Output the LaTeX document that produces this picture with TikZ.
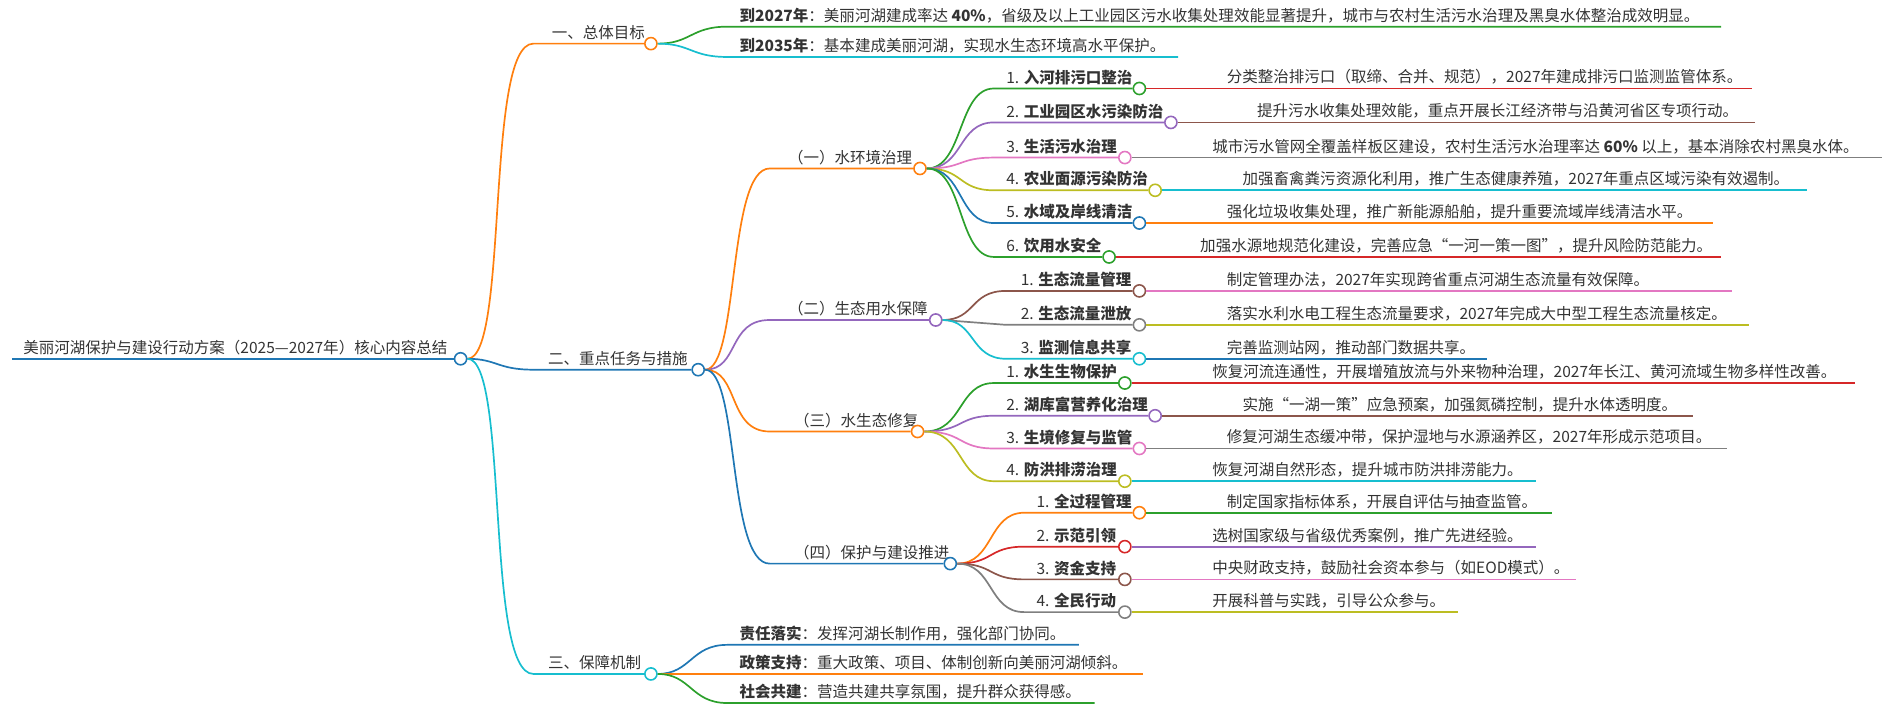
\documentclass[tikz,border=0pt]{standalone}
\usepackage{fontspec}
\setmainfont{Noto Sans CJK SC}
\definecolor{cblue}{HTML}{1F77B4}
\definecolor{corange}{HTML}{FF7F0E}
\definecolor{cgreen}{HTML}{2CA02C}
\definecolor{cred}{HTML}{D62728}
\definecolor{cpurple}{HTML}{9467BD}
\definecolor{cbrown}{HTML}{8C564B}
\definecolor{cpink}{HTML}{E377C2}
\definecolor{cgray}{HTML}{7F7F7F}
\definecolor{colive}{HTML}{BCBD22}
\definecolor{ccyan}{HTML}{17BECF}
\definecolor{ink}{HTML}{333333}
\begin{document}
\begin{tikzpicture}[x=1pt,y=-1pt,
      txt/.style={anchor=south west, inner sep=0pt, text=ink, font=\fontsize{12.8}{14}\selectfont},
      dot/.style={circle, draw=#1, fill=white, line width=1.3pt, minimum size=10pt, inner sep=0pt},
      wire/.style={draw=#1, line width=1.4pt}]

   \useasboundingbox (0,0) rectangle (1570,594);

   % root
   \node[txt] (root) at (19,293) {美丽河湖保护与建设行动方案（2025—2027年）核心内容总结};
   \node[dot=cblue] (r) at (380,296) {};
   \draw[wire=cblue] (10,296) -- (r);

   % level one
   \node[txt] (t1) at (455,33) {一、总体目标};
   \node[dot=corange] (a) at (537,36) {};
   \node[txt] (t2) at (452,302) {二、重点任务与措施};
   \node[dot=cblue] (b) at (576,305) {};
   \node[txt] (t3) at (452,553) {三、保障机制};
   \node[dot=ccyan] (c) at (537,556) {};

   \draw[wire=corange] (r.east) .. controls (420,296) and (400,36) .. (440,36) -- (a);
   \draw[wire=cblue] (r.east) .. controls (410,296) and (410,305) .. (440,305) -- (b);
   \draw[wire=ccyan] (r.east) .. controls (420,296) and (400,556) .. (440,556) -- (c);

   % goals
   \node[txt] (g1) at (610,19) {\textbf{到2027年}：美丽河湖建成率达 \textbf{40\%}，省级及以上工业园区污水收集处理效能显著提升，城市与农村生活污水治理及黑臭水体整治成效明显。};
   \node[txt] (g2) at (610,44) {\textbf{到2035年}：基本建成美丽河湖，实现水生态环境高水平保护。};
   \draw[wire=cgreen] (a.east) .. controls (570,36) and (570,22) .. (600,22) -- (1420,22);
   \draw[wire=ccyan] (a.east) .. controls (570,36) and (570,47) .. (600,47) -- (972,47);

   % level two
   \node[txt] (s1) at (650,136) {（一）水环境治理};
   \node[dot=corange] (b1) at (759,139) {};
   \node[txt] (s2) at (650,261) {（二）生态用水保障};
   \node[dot=cpurple] (b2) at (772,264) {};
   \node[txt] (s3) at (655,353) {（三）水生态修复};
   \node[dot=corange] (b3) at (757,356) {};
   \node[txt] (s4) at (655,462) {（四）保护与建设推进};
   \node[dot=cblue] (b4) at (784,465) {};

   \draw[wire=corange] (b.east) .. controls (610,305) and (600,139) .. (635,139) -- (b1);
   \draw[wire=cpurple] (b.east) .. controls (610,305) and (600,264) .. (635,264) -- (b2);
   \draw[wire=corange] (b.east) .. controls (610,305) and (600,356) .. (635,356) -- (b3);
   \draw[wire=cblue] (b.east) .. controls (610,305) and (600,465) .. (635,465) -- (b4);

   % (一)
   \node[txt] at (830,70) {1. \textbf{入河排污口整治}};
   \node[dot=cgreen] (p1) at (940,73) {};
   \node[txt] at (1012,70) {分类整治排污口（取缔、合并、规范），2027年建成排污口监测监管体系。};
   \node[txt] at (830,98) {2. \textbf{工业园区水污染防治}};
   \node[dot=cpurple] (p2) at (966,101) {};
   \node[txt] at (1037,98) {提升污水收集处理效能，重点开展长江经济带与沿黄河省区专项行动。};
   \node[txt] at (830,127) {3. \textbf{生活污水治理}};
   \node[dot=cpink] (p3) at (928,130) {};
   \node[txt] at (1000,127) {城市污水管网全覆盖样板区建设，农村生活污水治理率达 \textbf{60\%} 以上，基本消除农村黑臭水体。};
   \node[txt] at (830,154) {4. \textbf{农业面源污染防治}};
   \node[dot=colive] (p4) at (953,157) {};
   \node[txt] at (1025,154) {加强畜禽粪污资源化利用，推广生态健康养殖，2027年重点区域污染有效遏制。};
   \node[txt] at (830,181) {5. \textbf{水域及岸线清洁}};
   \node[dot=cblue] (p5) at (940,184) {};
   \node[txt] at (1012,181) {强化垃圾收集处理，推广新能源船舶，提升重要流域岸线清洁水平。};
   \node[txt] at (830,209) {6. \textbf{饮用水安全}};
   \node[dot=cgreen] (p6) at (915,212) {};
   \node[txt] at (990,209) {加强水源地规范化建设，完善应急“一河一策一图”，提升风险防范能力。};

   \draw[wire=cgreen] (b1.east) .. controls (795,139) and (790,73) .. (820,73) -- (p1);
   \draw[wire=cpurple] (b1.east) .. controls (795,139) and (790,101) .. (820,101) -- (p2);
   \draw[wire=cpink] (b1.east) .. controls (795,139) and (790,130) .. (820,130) -- (p3);
   \draw[wire=colive] (b1.east) .. controls (795,139) and (790,157) .. (820,157) -- (p4);
   \draw[wire=cblue] (b1.east) .. controls (795,139) and (790,184) .. (820,184) -- (p5);
   \draw[wire=cgreen] (b1.east) .. controls (795,139) and (790,212) .. (820,212) -- (p6);
   \draw[wire=cred] (p1.east) -- (1445,73);
   \draw[wire=cbrown] (p2.east) -- (1448,101);
   \draw[wire=cgray] (p3.east) -- (1553,130);
   \draw[wire=ccyan] (p4.east) -- (1491,157);
   \draw[wire=corange] (p5.east) -- (1413,184);
   \draw[wire=cred] (p6.east) -- (1420,212);

   % (二)
   \node[txt] at (842,237) {1. \textbf{生态流量管理}};
   \node[dot=cbrown] (q1) at (940,240) {};
   \node[txt] at (1012,237) {制定管理办法，2027年实现跨省重点河湖生态流量有效保障。};
   \node[txt] at (842,265) {2. \textbf{生态流量泄放}};
   \node[dot=cgray] (q2) at (940,268) {};
   \node[txt] at (1012,265) {落实水利水电工程生态流量要求，2027年完成大中型工程生态流量核定。};
   \node[txt] at (842,293) {3. \textbf{监测信息共享}};
   \node[dot=ccyan] (q3) at (940,296) {};
   \node[txt] at (1012,293) {完善监测站网，推动部门数据共享。};

   \draw[wire=cbrown] (b2.east) .. controls (805,264) and (800,240) .. (830,240) -- (q1);
   \draw[wire=cgray] (b2.east) -- (830,268) -- (q2);
   \draw[wire=ccyan] (b2.east) .. controls (805,264) and (800,296) .. (830,296) -- (q3);
   \draw[wire=cpink] (q1.east) -- (1429,240);
   \draw[wire=colive] (q2.east) -- (1443,268);
   \draw[wire=cblue] (q3.east) -- (1227,296);

   % (三)
   \node[txt] at (830,313) {1. \textbf{水生生物保护}};
   \node[dot=cgreen] (u1) at (928,316) {};
   \node[txt] at (1000,313) {恢复河流连通性，开展增殖放流与外来物种治理，2027年长江、黄河流域生物多样性改善。};
   \node[txt] at (830,340) {2. \textbf{湖库富营养化治理}};
   \node[dot=cpurple] (u2) at (953,343) {};
   \node[txt] at (1025,340) {实施“一湖一策”应急预案，加强氮磷控制，提升水体透明度。};
   \node[txt] at (830,367) {3. \textbf{生境修复与监管}};
   \node[dot=cpink] (u3) at (940,370) {};
   \node[txt] at (1012,367) {修复河湖生态缓冲带，保护湿地与水源涵养区，2027年形成示范项目。};
   \node[txt] at (830,394) {4. \textbf{防洪排涝治理}};
   \node[dot=colive] (u4) at (928,397) {};
   \node[txt] at (1000,394) {恢复河湖自然形态，提升城市防洪排涝能力。};

   \draw[wire=cgreen] (b3.east) .. controls (795,356) and (790,316) .. (820,316) -- (u1);
   \draw[wire=cpurple] (b3.east) .. controls (795,356) and (790,343) .. (820,343) -- (u2);
   \draw[wire=cpink] (b3.east) .. controls (795,356) and (790,370) .. (820,370) -- (u3);
   \draw[wire=colive] (b3.east) .. controls (795,356) and (790,397) .. (820,397) -- (u4);
   \draw[wire=cred] (u1.east) -- (1530,316);
   \draw[wire=cbrown] (u2.east) -- (1397,343);
   \draw[wire=cgray] (u3.east) -- (1425,370);
   \draw[wire=ccyan] (u4.east) -- (1267,397);

   % (四)
   \node[txt] at (855,420) {1. \textbf{全过程管理}};
   \node[dot=corange] (v1) at (940,423) {};
   \node[txt] at (1012,420) {制定国家指标体系，开展自评估与抽查监管。};
   \node[txt] at (855,448) {2. \textbf{示范引领}};
   \node[dot=cred] (v2) at (928,451) {};
   \node[txt] at (1000,448) {选树国家级与省级优秀案例，推广先进经验。};
   \node[txt] at (855,475) {3. \textbf{资金支持}};
   \node[dot=cbrown] (v3) at (928,478) {};
   \node[txt] at (1000,475) {中央财政支持，鼓励社会资本参与（如EOD模式）。};
   \node[txt] at (855,502) {4. \textbf{全民行动}};
   \node[dot=cgray] (v4) at (928,505) {};
   \node[txt] at (1000,502) {开展科普与实践，引导公众参与。};

   \draw[wire=corange] (b4.east) .. controls (820,465) and (815,423) .. (845,423) -- (v1);
   \draw[wire=cred] (b4.east) .. controls (820,465) and (815,451) .. (845,451) -- (v2);
   \draw[wire=cbrown] (b4.east) .. controls (820,465) and (815,478) .. (845,478) -- (v3);
   \draw[wire=cgray] (b4.east) .. controls (820,465) and (815,505) .. (845,505) -- (v4);
   \draw[wire=cgreen] (v1.east) -- (1280,423);
   \draw[wire=cpurple] (v2.east) -- (1267,451);
   \draw[wire=cpink] (v3.east) -- (1300,478);
   \draw[wire=colive] (v4.east) -- (1203,505);

   % guarantees
   \node[txt] (m1) at (610,529) {\textbf{责任落实}：发挥河湖长制作用，强化部门协同。};
   \node[txt] (m2) at (610,553) {\textbf{政策支持}：重大政策、项目、体制创新向美丽河湖倾斜。};
   \node[txt] (m3) at (610,577) {\textbf{社会共建}：营造共建共享氛围，提升群众获得感。};
   \draw[wire=cblue] (c.east) .. controls (570,556) and (570,532) .. (600,532) -- (890,532);
   \draw[wire=corange] (c.east) -- (943,556);
   \draw[wire=cgreen] (c.east) .. controls (570,556) and (570,580) .. (600,580) -- (903,580);

 \end{tikzpicture}
\end{document}
